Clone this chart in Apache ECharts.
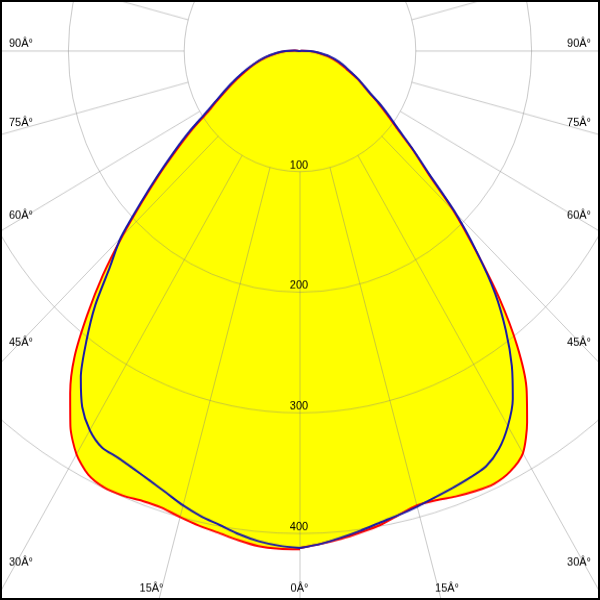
<!DOCTYPE html>
<html><head><meta charset="utf-8">
<script src="https://cdn.jsdelivr.net/npm/echarts@6/dist/echarts.min.js"></script>
<style>
html,body{margin:0;padding:0;background:#fff;overflow:hidden}
#wrap{position:relative;width:600px;height:600px;overflow:hidden;background:#fff}
#chart{position:absolute;left:0;top:0;width:600px;height:576px;transform:scaleY(1.0416667);transform-origin:0 0}
#frame{position:absolute;left:0;top:0;width:600px;height:600px;box-sizing:border-box;border:2px solid #000;pointer-events:none}
</style></head><body>
<div id="wrap"><div id="chart"></div><div id="frame"></div></div>
<script>
// gamma angles (deg from nadir)
const gamma = [0,2.5,5,7.5,10,12.5,15,17.5,20,22.5,25,27.5,30,32.5,35,37.5,40,42.5,45,47.5,50,52.5,55,57.5,60,65,70,75,80,85,90,95,100,180];
// red curve (C0 / C180), left and right halves
const redLeft  = [413,413,412,409,405.5,403,400,397,397,399,399.5,396,386,369,346,320,286,252,217,185,158,134,114,95,83,65,51,40,30,20,12,4,0,0];
const redRight = [412,409,406,402.5,399,394,390,390.5,393,395,396,393,385,365,341,308,268,225,188,150,127,106,92,80,69,55,42,33,24,15,8,2,0,0];
// blue curve (C90 / C270), left and right halves
const blueLeft  = [412,410.5,408,404,399,395,390,384,379,375,372,370.5,363,350,330,303,275,243,219,187,160,137,117,98,85,67,53,41,31,21,13,5,0,0];
const blueRight = [412,409,405,401,397,394,391,388,385.5,383,380,372,359,342,319,292,262,226,190,152,128,108,94,82,70,56,44,35,26,16,9,2,0,0];
// tick labels
const radiusTicks = [100,200,300,400];
const angleLabelsSide = ['90Â°','75Â°','60Â°','45Â°','30Â°'];
const angleLabelsBottom = ['15Â°','0Â°','15Â°'];

const SY = 600/576;       // vertical stretch of the picture
const PX = 1.158;         // px per unit (horizontal)
const CY = 51/SY;         // polar centre y in chart space
const GRID = 'rgba(128,128,128,0.42)';
const FONT = '11px "Liberation Sans", Arial, sans-serif';

function toData(left, right){
  const a = gamma.map((g,i)=>[left[i], g]);
  const b = gamma.map((g,i)=>[right[i], 360-g]).reverse();
  return a.concat(b);
}
const redData = toData(redLeft, redRight);
const blueData = toData(blueLeft, blueRight);

const sideY = [43.3,122.7,216,343,562.7];
const graphics = [];
angleLabelsSide.forEach((t,i)=>{
  graphics.push({type:'text', x:9, y:sideY[i]/SY, z:100, style:{text:t, font:FONT, fill:'#000', align:'left', verticalAlign:'middle'}});
  graphics.push({type:'text', x:591, y:sideY[i]/SY, z:100, style:{text:t, font:FONT, fill:'#000', align:'right', verticalAlign:'middle'}});
});
const bottomX = [151.5,299.5,447];
angleLabelsBottom.forEach((t,i)=>{
  graphics.push({type:'text', x:bottomX[i], y:589/SY, z:100, style:{text:t, font:FONT, fill:'#000', align:'center', verticalAlign:'middle'}});
});
radiusTicks.forEach((v)=>{
  const yOrig = 51 + v*PX*SY - 6.5;
  graphics.push({type:'text', x:299, y:yOrig/SY, z:100, style:{text:String(v), font:FONT, fill:'#000', align:'center', verticalAlign:'middle'}});
});

const chart = echarts.init(document.getElementById('chart'), null, {renderer:'canvas'});
const base = {type:'line', coordinateSystem:'polar', polarIndex:2, symbol:'none', smooth:0.25, clip:false, animation:false};
const hiddenAxis = {axisLine:{show:false}, axisTick:{show:false}, axisLabel:{show:false}, splitLine:{show:false}};
chart.setOption({
  animation:false,
  backgroundColor:'#ffffff',
  polar:[
    {center:[300, CY], radius:[0, 400*PX]},
    {center:[300, CY], radius:[100*PX, 900]},
    {center:[300, CY], radius:[0, 600*PX]}
  ],
  angleAxis:[
    Object.assign({polarIndex:0, type:'value', min:0, max:360, startAngle:270, clockwise:true}, hiddenAxis),
    {polarIndex:1, type:'value', min:0, max:360, interval:15, startAngle:270, clockwise:true, axisLine:{show:false}, axisTick:{show:false}, axisLabel:{show:false}, splitLine:{show:true, lineStyle:{color:GRID, width:1}}, z:5},
    Object.assign({polarIndex:2, type:'value', min:0, max:360, startAngle:270, clockwise:true}, hiddenAxis)
  ],
  radiusAxis:[
    {polarIndex:0, type:'value', min:0, max:400, interval:100, axisLine:{show:false}, axisTick:{show:false}, axisLabel:{show:false}, splitLine:{show:true, lineStyle:{color:GRID, width:1}}, z:5},
    {polarIndex:1, type:'value', min:0, max:1, show:false},
    Object.assign({polarIndex:2, type:'value', min:0, max:600}, hiddenAxis)
  ],
  series:[
    Object.assign({}, base, {name:'fillRed', data:redData, lineStyle:{width:0, opacity:0}, areaStyle:{color:'#ffff00', opacity:1}, z:1, silent:true}),
    Object.assign({}, base, {name:'fillBlue', data:blueData, lineStyle:{width:0, opacity:0}, areaStyle:{color:'#ffff00', opacity:1}, z:1, silent:true}),
    Object.assign({}, base, {name:'C0-C180', data:redData, lineStyle:{color:'#ff0000', width:2}, z:10}),
    Object.assign({}, base, {name:'C90-C270', data:blueData, lineStyle:{color:'#1a1aa8', width:2}, z:11})
  ],
  graphic: graphics
});
</script>
</body></html>
